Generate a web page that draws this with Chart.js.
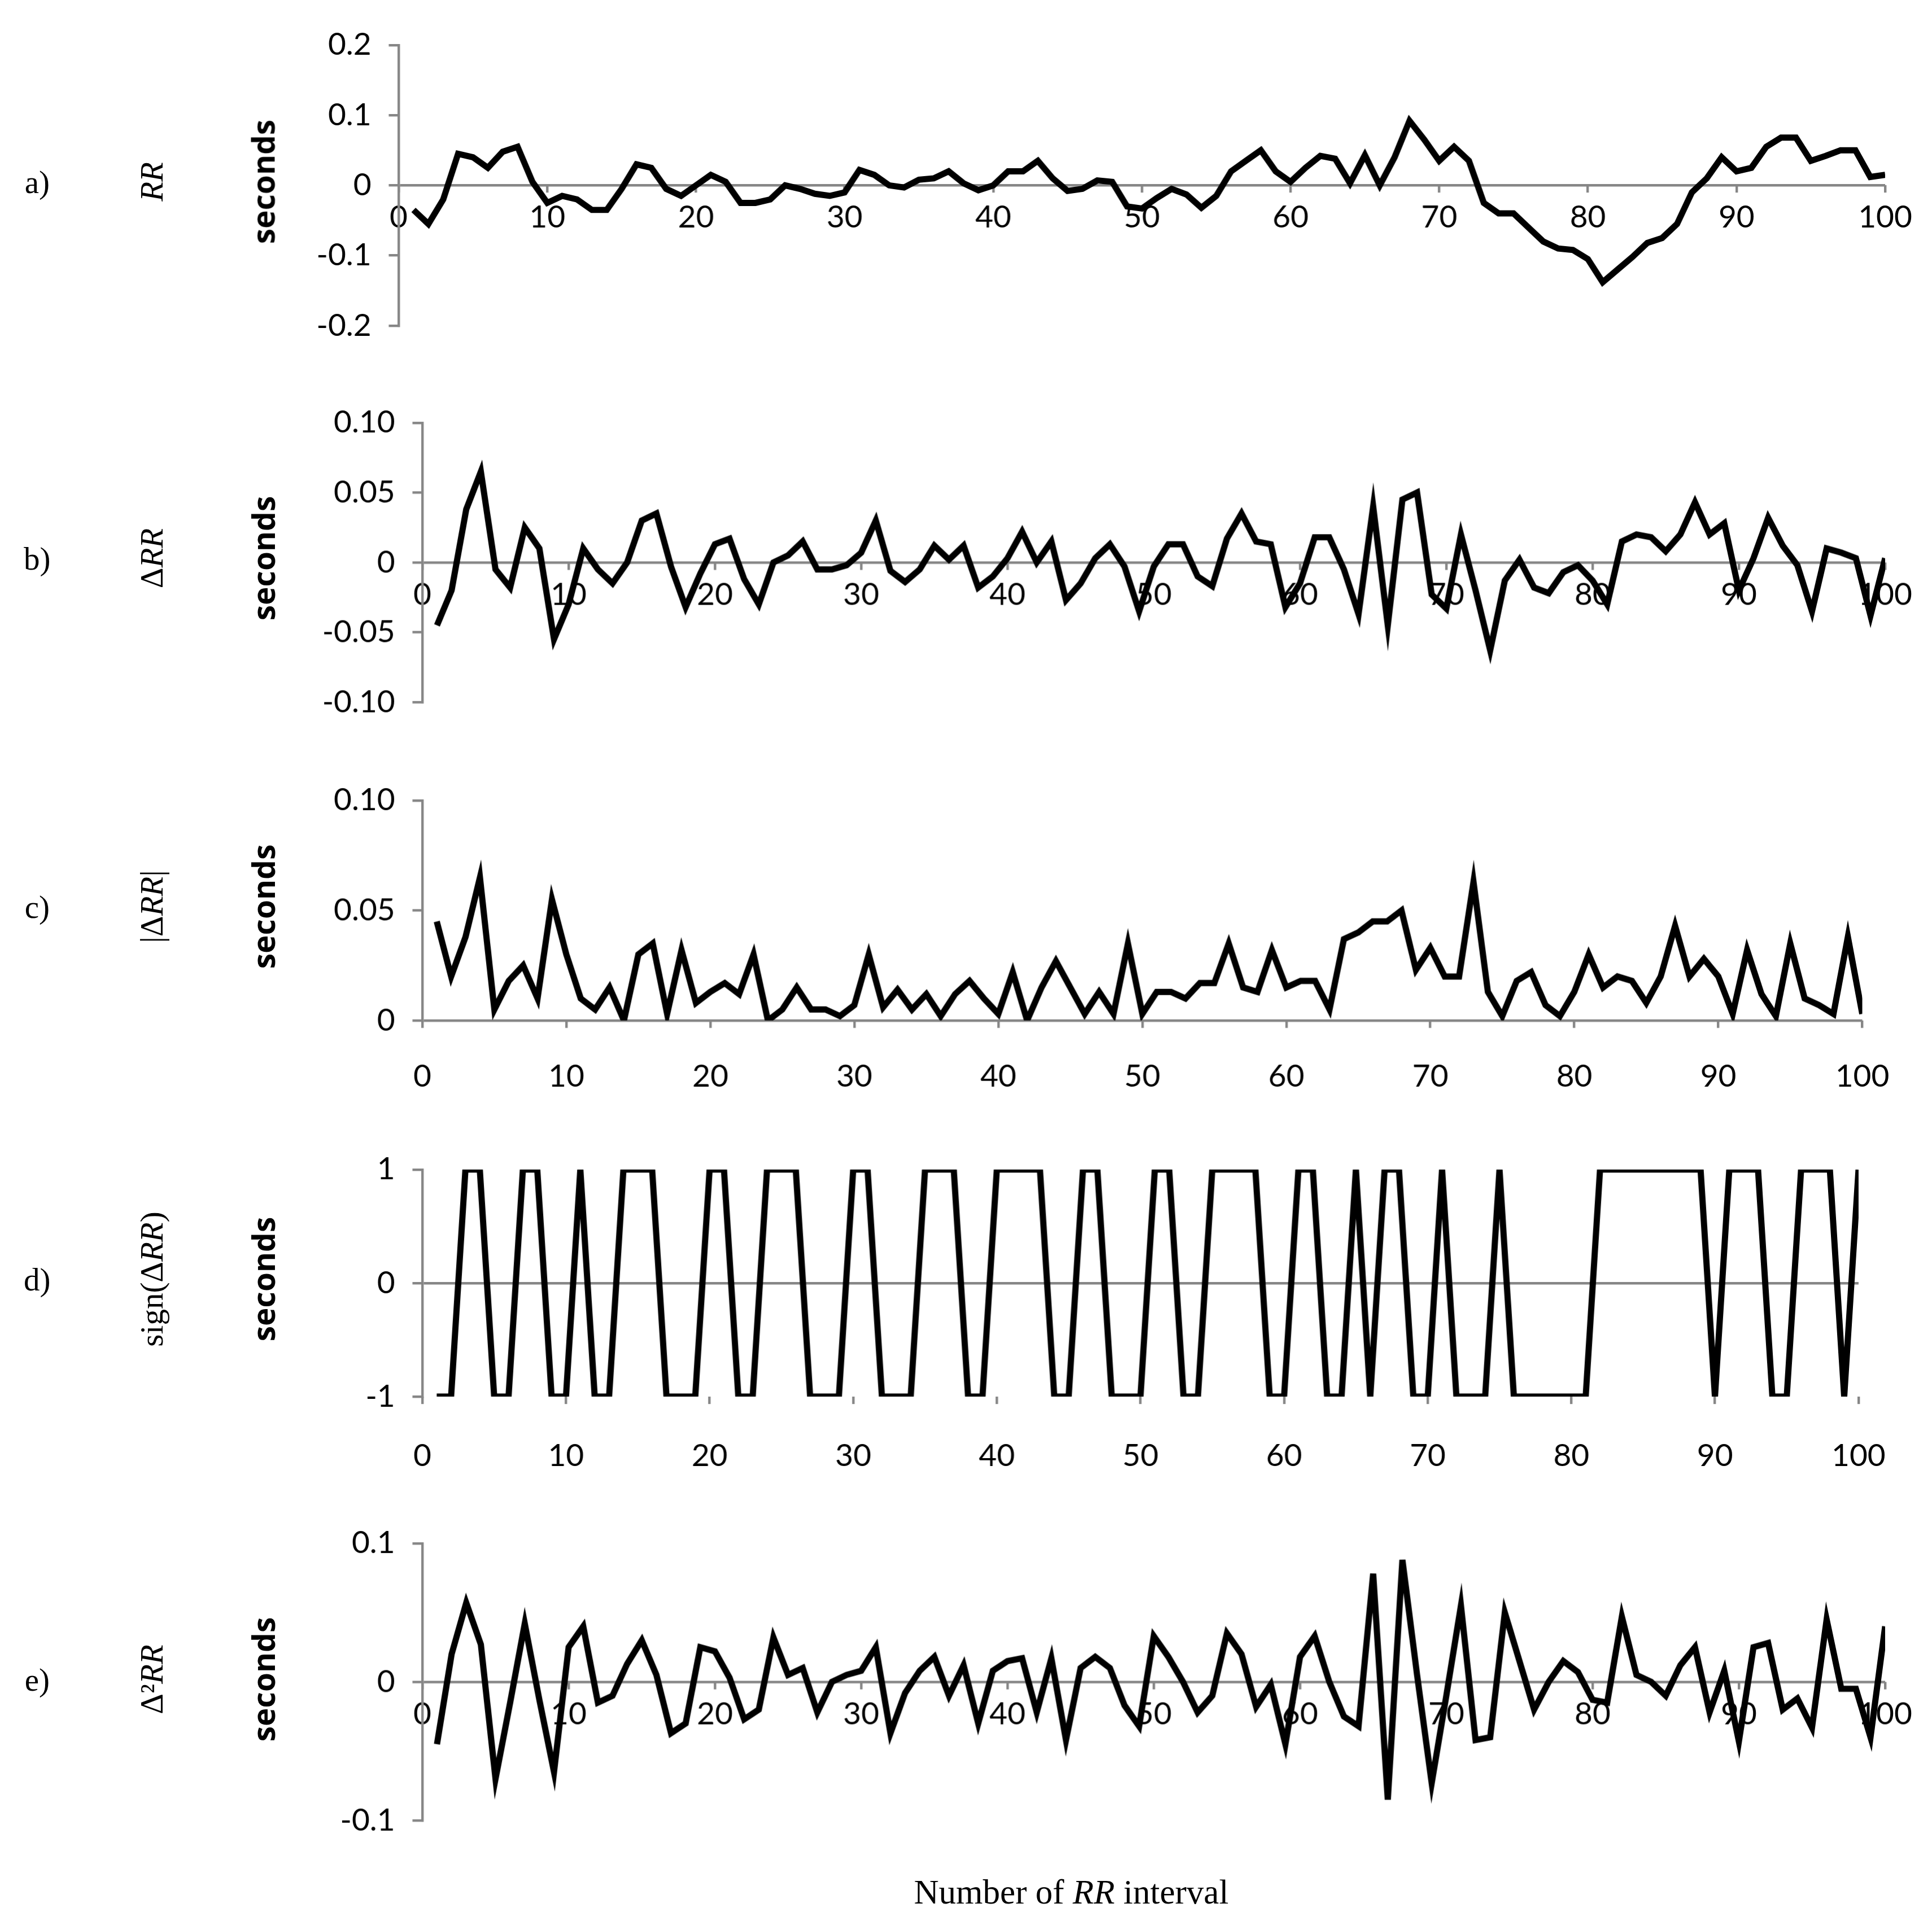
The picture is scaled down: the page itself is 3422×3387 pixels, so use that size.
<!DOCTYPE html>
<html>
<head>
<meta charset="utf-8">
<script src="https://cdn.jsdelivr.net/npm/chart.js@4.4.1/dist/chart.umd.min.js"></script>
<style>
  html, body { margin: 0; padding: 0; background: #fff; }
  body { width: 3422px; height: 3387px; position: relative; overflow: hidden; }
  canvas { position: absolute; }
  .lbl { position: absolute; white-space: nowrap; font-family: "Liberation Serif", "DejaVu Serif", serif; color: #000; }
  .rot { transform: translate(-50%, -50%) rotate(-90deg); }
  .mid { transform: translate(-50%, -50%); }
  .sec { font-family: "Open Sans", sans-serif; font-weight: bold; }
</style>
</head>
<body>
<script>
// Five stacked panels: RR, ΔRR, |ΔRR|, sign(ΔRR), Δ²RR vs interval number.

const S = 3422 / 1560;

const rrValues = [-0.035, -0.055, -0.02, 0.045, 0.04, 0.025, 0.048, 0.055, 0.005, -0.025,
  -0.015, -0.02, -0.035, -0.035, -0.005, 0.03, 0.025, -0.005, -0.015, 0,
  0.015, 0.005, -0.025, -0.025, -0.02, 0, -0.005, -0.012, -0.015, -0.01,
  0.022, 0.015, 0, -0.003, 0.008, 0.01, 0.02, 0.003, -0.007, 0,
  0.02, 0.02, 0.035, 0.01, -0.008, -0.005, 0.007, 0.005, -0.03, -0.033,
  -0.018, -0.005, -0.013, -0.032, -0.015, 0.02, 0.035, 0.05, 0.02, 0.005,
  0.025, 0.042, 0.038, 0.003, 0.043, 0, 0.04, 0.092, 0.065, 0.035,
  0.055, 0.035, -0.025, -0.04, -0.04, -0.06, -0.08, -0.09, -0.092, -0.105,
  -0.138, -0.12, -0.102, -0.082, -0.075, -0.055, -0.01, 0.01, 0.04, 0.02,
  0.025, 0.055, 0.068, 0.068, 0.035, 0.042, 0.05, 0.05, 0.012, 0.015];

const dRRValues = [-0.045, -0.02, 0.038, 0.065, -0.005, -0.018, 0.025, 0.01, -0.055, -0.03,
  0.01, -0.005, -0.015, 0, 0.03, 0.035, -0.003, -0.032, -0.008, 0.013,
  0.017, -0.012, -0.03, 0, 0.005, 0.015, -0.005, -0.005, -0.002, 0.007,
  0.03, -0.006, -0.014, -0.005, 0.012, 0.002, 0.012, -0.018, -0.01, 0.003,
  0.022, 0, 0.015, -0.027, -0.015, 0.003, 0.013, -0.003, -0.035, -0.003,
  0.013, 0.013, -0.01, -0.017, 0.017, 0.035, 0.015, 0.013, -0.032, -0.015,
  0.018, 0.018, -0.005, -0.037, 0.04, -0.045, 0.045, 0.05, -0.023, -0.033,
  0.02, -0.02, -0.063, -0.013, 0.002, -0.018, -0.022, -0.007, -0.002, -0.013,
  -0.03, 0.015, 0.02, 0.018, 0.008, 0.02, 0.043, 0.02, 0.028, -0.02,
  0.003, 0.032, 0.012, -0.002, -0.035, 0.01, 0.007, 0.003, -0.038, 0.003];

const absDRRValues = [0.045, 0.02, 0.038, 0.065, 0.005, 0.018, 0.025, 0.01, 0.055, 0.03,
  0.01, 0.005, 0.015, 0, 0.03, 0.035, 0.003, 0.032, 0.008, 0.013,
  0.017, 0.012, 0.03, 0, 0.005, 0.015, 0.005, 0.005, 0.002, 0.007,
  0.03, 0.006, 0.014, 0.005, 0.012, 0.002, 0.012, 0.018, 0.01, 0.003,
  0.022, 0, 0.015, 0.027, 0.015, 0.003, 0.013, 0.003, 0.035, 0.003,
  0.013, 0.013, 0.01, 0.017, 0.017, 0.035, 0.015, 0.013, 0.032, 0.015,
  0.018, 0.018, 0.005, 0.037, 0.04, 0.045, 0.045, 0.05, 0.023, 0.033,
  0.02, 0.02, 0.063, 0.013, 0.002, 0.018, 0.022, 0.007, 0.002, 0.013,
  0.03, 0.015, 0.02, 0.018, 0.008, 0.02, 0.043, 0.02, 0.028, 0.02,
  0.003, 0.032, 0.012, 0.002, 0.035, 0.01, 0.007, 0.003, 0.038, 0.003];

const signValues = [-1, -1, 1, 1, -1, -1, 1, 1, -1, -1,
  1, -1, -1, 1, 1, 1, -1, -1, -1, 1,
  1, -1, -1, 1, 1, 1, -1, -1, -1, 1,
  1, -1, -1, -1, 1, 1, 1, -1, -1, 1,
  1, 1, 1, -1, -1, 1, 1, -1, -1, -1,
  1, 1, -1, -1, 1, 1, 1, 1, -1, -1,
  1, 1, -1, -1, 1, -1, 1, 1, -1, -1,
  1, -1, -1, -1, 1, -1, -1, -1, -1, -1,
  -1, 1, 1, 1, 1, 1, 1, 1, 1, -1,
  1, 1, 1, -1, -1, 1, 1, 1, -1, 1];

const d2RRValues = [-0.045, 0.02, 0.057, 0.027, -0.07, -0.015, 0.042, -0.013, -0.065, 0.025,
  0.04, -0.015, -0.01, 0.013, 0.03, 0.005, -0.037, -0.03, 0.025, 0.022,
  0.003, -0.027, -0.02, 0.032, 0.005, 0.01, -0.022, 0, 0.005, 0.008,
  0.025, -0.037, -0.008, 0.008, 0.018, -0.01, 0.012, -0.03, 0.008, 0.015,
  0.017, -0.022, 0.017, -0.042, 0.01, 0.018, 0.01, -0.017, -0.032, 0.033,
  0.018, 0, -0.022, -0.01, 0.035, 0.02, -0.018, -0.002, -0.045, 0.018,
  0.033, 0, -0.025, -0.032, 0.078, -0.085, 0.088, 0.005, -0.073, -0.01,
  0.055, -0.042, -0.04, 0.05, 0.015, -0.02, 0, 0.015, 0.007, -0.013,
  -0.015, 0.047, 0.005, 0, -0.01, 0.012, 0.025, -0.022, 0.008, -0.043,
  0.025, 0.028, -0.02, -0.012, -0.033, 0.045, -0.005, -0.005, -0.04, 0.04];

// panel geometry in reference display units (scaled by S)
const panels = [
  { data: rrValues, min: -0.2, max: 0.2, step: 0.1, left: 322, top: 30, bottom: 263, axisAt: 0, pad: 5, name: 'a)', label: '<i>RR</i>', cy: 147 },
  { data: dRRValues, min: -0.1, max: 0.1, step: 0.05, left: 341, top: 335, bottom: 567, axisAt: 0, pad: 5, name: 'b)', label: 'Δ<i>RR</i>', cy: 451 },
  { data: absDRRValues, min: 0, max: 0.1, step: 0.05, left: 341, top: 640, bottom: 824, axisAt: 0, pad: 24, name: 'c)', label: '|Δ<i>RR</i>|', cy: 732 },
  { data: signValues, min: -1, max: 1, step: 1, left: 341, top: 938, bottom: 1128, axisAt: -1, pad: 27, name: 'd)', label: 'sign(Δ<i>RR</i>)', cy: 1033 },
  { data: d2RRValues, min: -0.1, max: 0.1, step: 0.1, left: 341, top: 1240, bottom: 1470, axisAt: 0, pad: 5, name: 'e)', label: 'Δ²<i>RR</i>', cy: 1356 },
];

const RIGHT = 1522;
const GRAY = '#868686';
const YW = 240, PT = 50, PR = 60, PB = 170;
const tickFont = { family: 'Lato, "Open Sans", sans-serif', size: Math.round(25 * S) };

const addLabel = (html, x, y, size, cls) => {
  const el = document.createElement('div');
  el.className = 'lbl ' + cls;
  el.style.left = (x * S) + 'px';
  el.style.top = (y * S) + 'px';
  el.style.fontSize = Math.round(size * S) + 'px';
  el.innerHTML = html;
  document.body.appendChild(el);
};

panels.forEach((p) => {
  const canvas = document.createElement('canvas');
  const w = (RIGHT - p.left) * S + YW + PR;
  const h = (p.bottom - p.top) * S + PT + PB;
  canvas.style.left = (p.left * S - YW) + 'px';
  canvas.style.top = (p.top * S - PT) + 'px';
  canvas.style.width = w + 'px';
  canvas.style.height = h + 'px';
  document.body.appendChild(canvas);

  const points = p.data.map((v, i) => ({ x: i + 1, y: v }));

  new Chart(canvas, {
    type: 'line',
    data: { datasets: [{ data: points, borderColor: '#000', borderWidth: 5 * S, pointRadius: 0, tension: 0, borderJoinStyle: 'miter' }] },
    options: {
      responsive: false,
      animation: false,
      devicePixelRatio: 1,
      layout: { padding: { left: 0, top: PT, right: PR, bottom: PB } },
      plugins: { legend: { display: false }, tooltip: { enabled: false } },
      scales: {
        x: {
          type: 'linear', min: 0, max: 100,
          position: { y: p.axisAt },
          border: { display: false },
          grid: { drawOnChartArea: false, drawTicks: true, tickLength: 6 * S, tickColor: GRAY, lineWidth: 2 * S },
          ticks: { stepSize: 10, color: '#000', font: tickFont, padding: p.pad * S, maxRotation: 0 },
        },
        y: {
          min: p.min, max: p.max,
          afterFit: (scale) => { scale.width = YW; },
          border: { display: true, color: GRAY, width: 2 * S },
          grid: {
            color: (ctx) => (ctx.tick && ctx.tick.value === 0 ? GRAY : 'rgba(0,0,0,0)'),
            lineWidth: 2 * S, tickColor: GRAY, tickLength: 8 * S,
          },
          ticks: { stepSize: p.step, color: '#000', font: tickFont, padding: 14 * S },
        },
      },
    },
  });

  addLabel(p.name, 30, p.cy, 26, 'mid');
  addLabel(p.label, 122, p.cy, 26, 'rot');
  addLabel('seconds', 212, p.cy, 25, 'rot sec');
});

addLabel('Number of <i>RR</i> interval', 865, 1528, 28, 'mid');
</script>
</body>
</html>
